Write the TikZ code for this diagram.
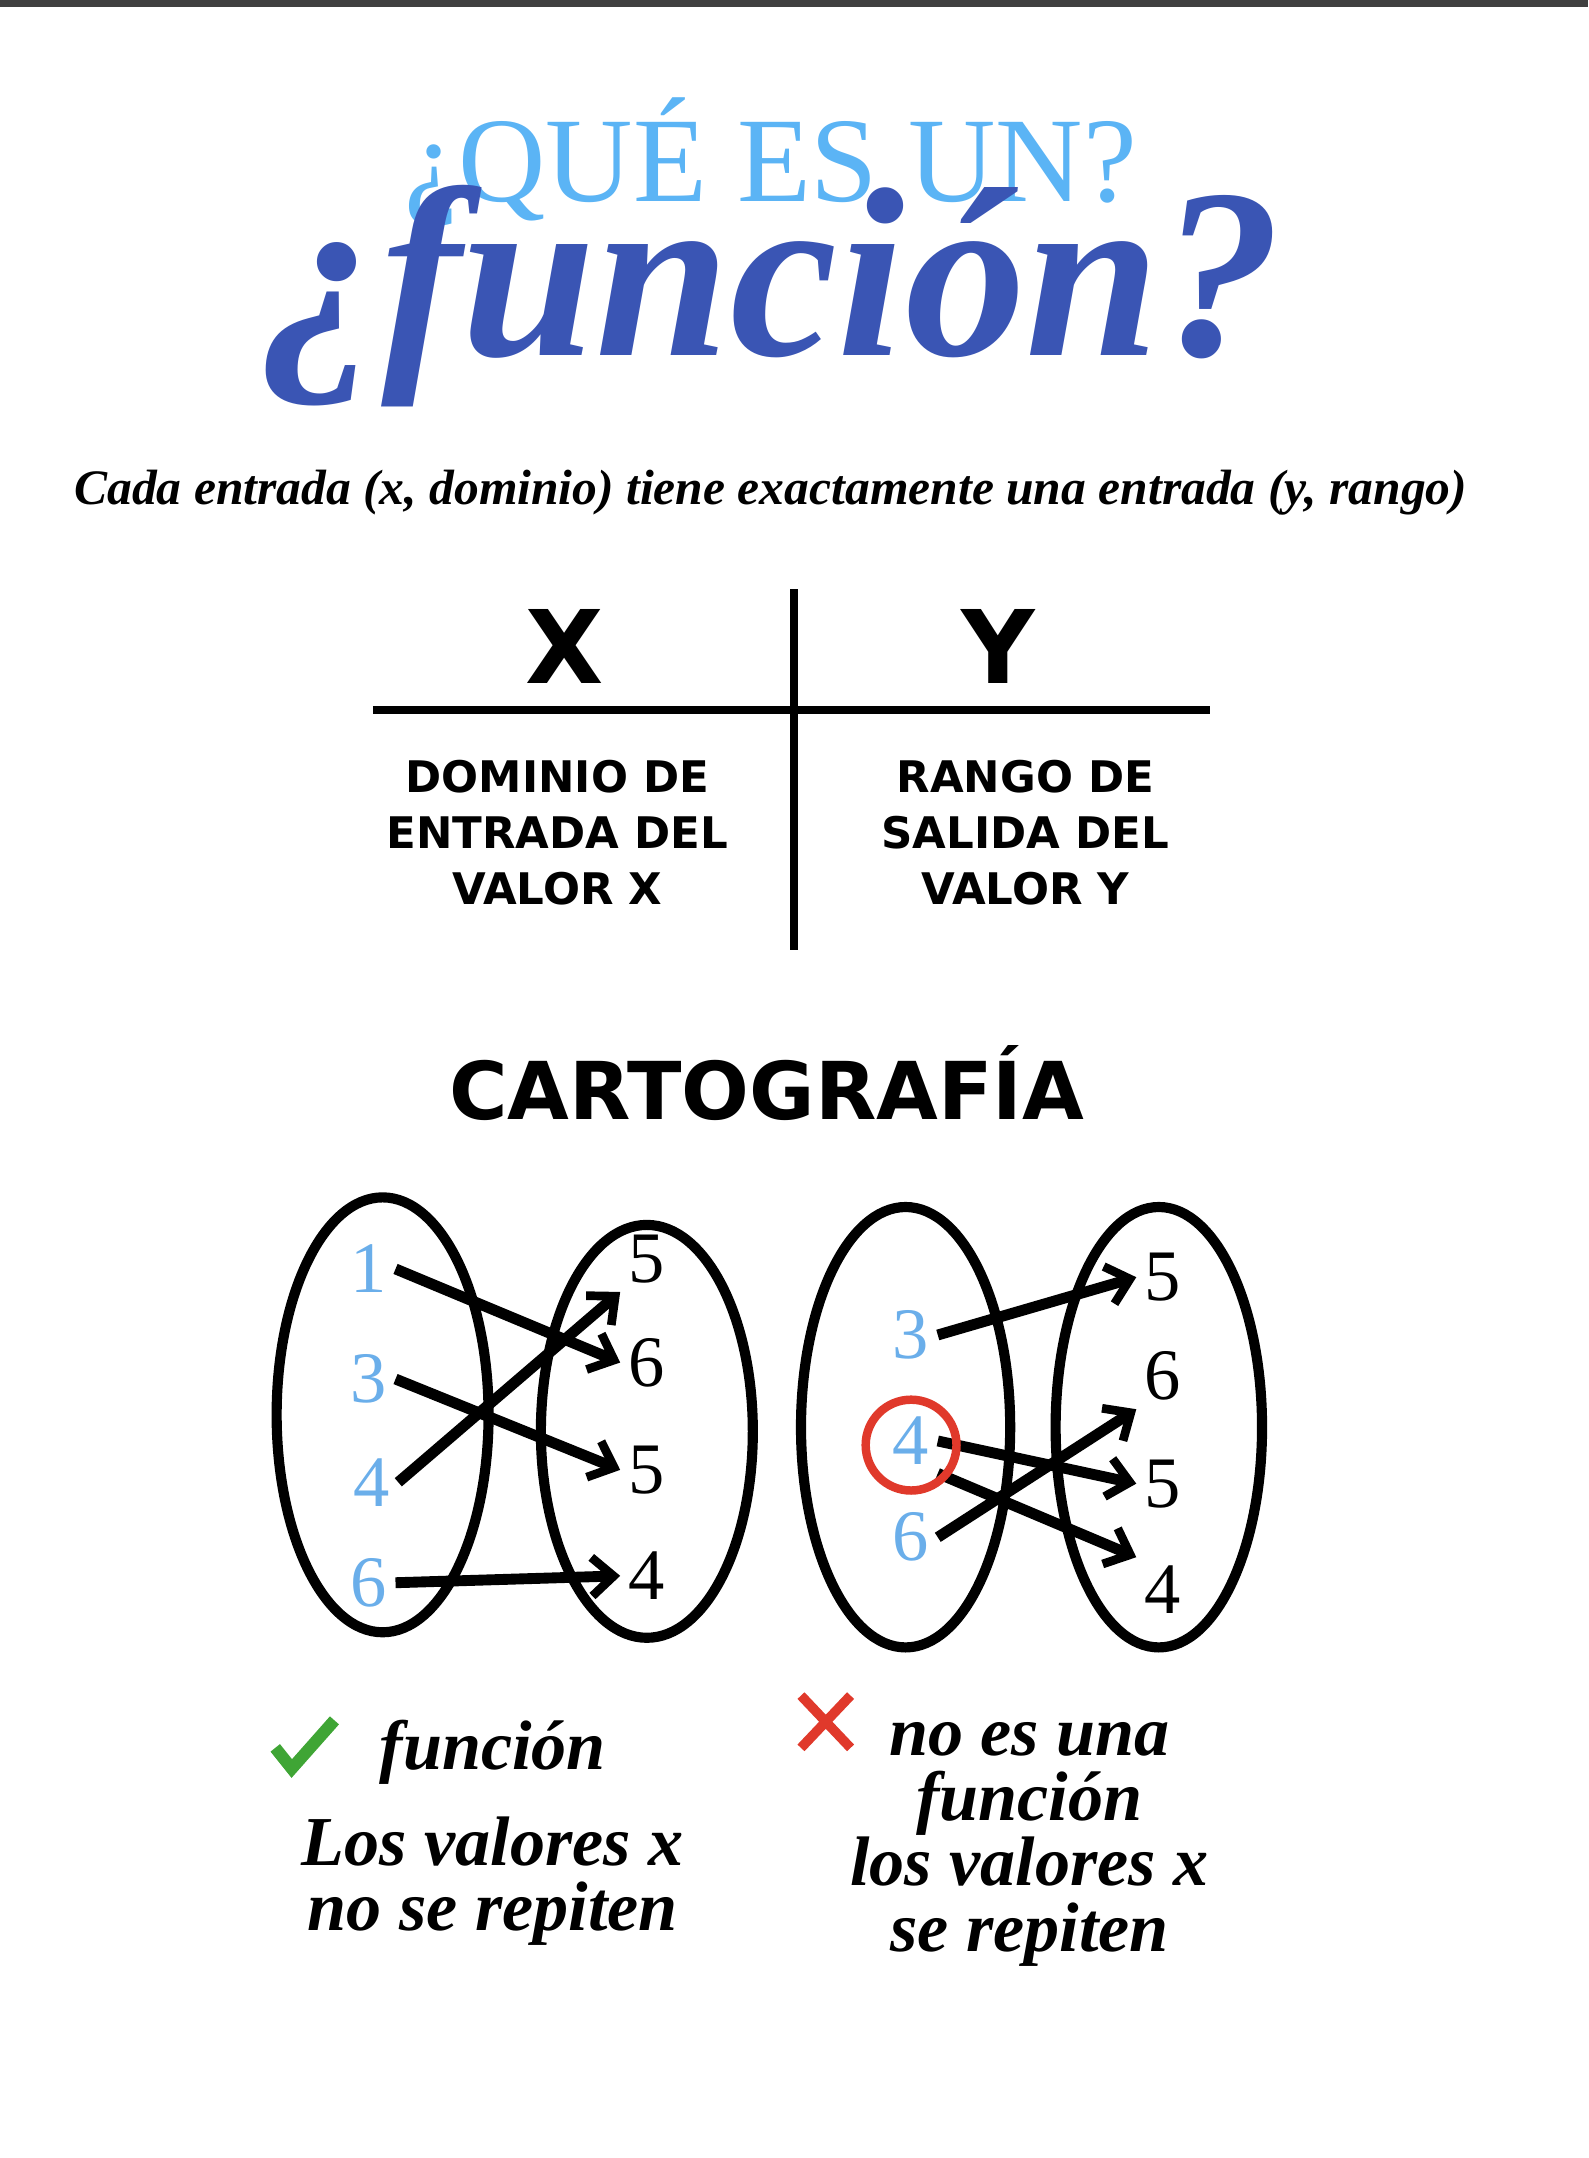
\documentclass[tikz,border=0pt]{standalone}
\usepackage{fontspec}
\setmainfont{Liberation Serif}
\newfontfamily\heavy{DejaVu Sans}
\usetikzlibrary{arrows.meta}
\definecolor{lblue}{HTML}{5BB4F5}
\definecolor{dblue}{HTML}{3A55B4}
\definecolor{nblue}{HTML}{6AAEEA}
\definecolor{cred}{HTML}{E0392B}
\definecolor{cgreen}{HTML}{3FA535}
\tikzset{
 x=0.02cm,y=-0.02cm,
 oval/.style={draw,line width=4.2pt},
 inum/.style={text=nblue,font=\fontsize{30}{30}\selectfont},
 onum/.style={font=\fontsize{30}{30}\selectfont},
 mapar/.style={line width=4.5pt,-{Straight Barb[length=9pt,width=16pt,line width=3.6pt]}},
 note/.style={font=\fontsize{29}{27}\selectfont\bfseries\itshape,align=center},
 hd/.style={font=\heavy\bfseries\fontsize{18}{23}\selectfont,align=center},
}
\begin{document}
\begin{tikzpicture}
\useasboundingbox (0,0) rectangle (1154,1568);
\fill[white] (0,0) rectangle (1154,1568);
\fill[black!75] (0,0) rectangle (1154,5);
\node[text=lblue,font=\fontsize{50}{50}\selectfont] (t1) at (560,118) {¿QUÉ ES UN?};
\node[text=dblue,font=\fontsize{100}{100}\selectfont\bfseries\itshape] (t2) at (560,215) {¿función?};
\node[font=\fontsize{20.5}{21}\selectfont\bfseries\itshape] (sub) at (560,358) {Cada entrada (x, dominio) tiene exactamente una entrada (y, rango)};
\coordinate (vt) at (577,428); \coordinate (vb) at (577,690);
\coordinate (hl) at (271,516); \coordinate (hr) at (879,516);
\draw[line width=3.5pt] (vt) -- (vb);
\draw[line width=3.5pt] (hl) -- (hr);
\node[font=\heavy\bfseries\fontsize{42}{42}\selectfont] (X) at (410,470) {X};
\node[font=\heavy\bfseries\fontsize{42}{42}\selectfont] (Y) at (725,470) {Y};
\node[hd] (dx) at (405,605) {DOMINIO DE\\ENTRADA DEL\\VALOR X};
\node[hd] (dy) at (745,605) {RANGO DE\\SALIDA DEL\\VALOR Y};
\node[font=\heavy\bfseries\fontsize{33}{33}\selectfont] (carto) at (557,787) {CARTOGRAFÍA};
% left diagram
\draw[oval] (278,1028) ellipse [x radius=77,y radius=158];
\draw[oval] (470,1040) ellipse [x radius=77,y radius=150];
\node[inum] (a1) at (268,922) {1};
\node[inum] (a3) at (268,1002) {3};
\node[inum] (a4) at (270,1077) {4};
\node[inum] (a6) at (268,1150) {6};
\node[onum] (b5) at (470,915) {5};
\node[onum] (b6) at (470,990) {6};
\node[onum] (c5) at (470,1068) {5};
\node[onum] (b4) at (470,1145) {4};
\draw[mapar] (a1.east) -- (b6.west);
\draw[mapar] (a3.east) -- (c5.west);
\draw[mapar] (a4.east) -- (b5.south west);
\draw[mapar] (a6.east) -- (b4.west);
% right diagram
\draw[oval] (658,1037) ellipse [x radius=76,y radius=160];
\draw[oval] (842,1037) ellipse [x radius=75,y radius=160];
\node[inum] (p3) at (662,970) {3};
\node[inum] (p4) at (662,1047) {4};
\node[inum] (p6) at (662,1117) {6};
\node[onum] (q5) at (845,928) {5};
\node[onum] (q6) at (845,1000) {6};
\node[onum] (r5) at (845,1078) {5};
\node[onum] (q4) at (845,1155) {4};
\draw[mapar] (p3.east) -- (q5.west);
\draw[mapar] (p6.east) -- (q6.south west);
\draw[mapar] (p4.east) -- (r5.west);
\draw[mapar] (p4.south east) -- (q4.north west);
\draw[cred,line width=3.5pt] (662,1050) circle [radius=33];
% captions
\draw[cgreen,line width=5pt] (200,1270) -- (212,1285) -- (243,1250);
\node[note] (f1) at (358,1273) {función};
\node[note] (f2) at (358,1367) {Los valores x\\no se repiten};
\draw[cred,line width=4pt] (582,1232) -- (618,1270) (618,1232) -- (582,1270);
\node[note] (g1) at (748,1340) {no es una\\función\\los valores x\\se repiten};
\end{tikzpicture}
\end{document}
